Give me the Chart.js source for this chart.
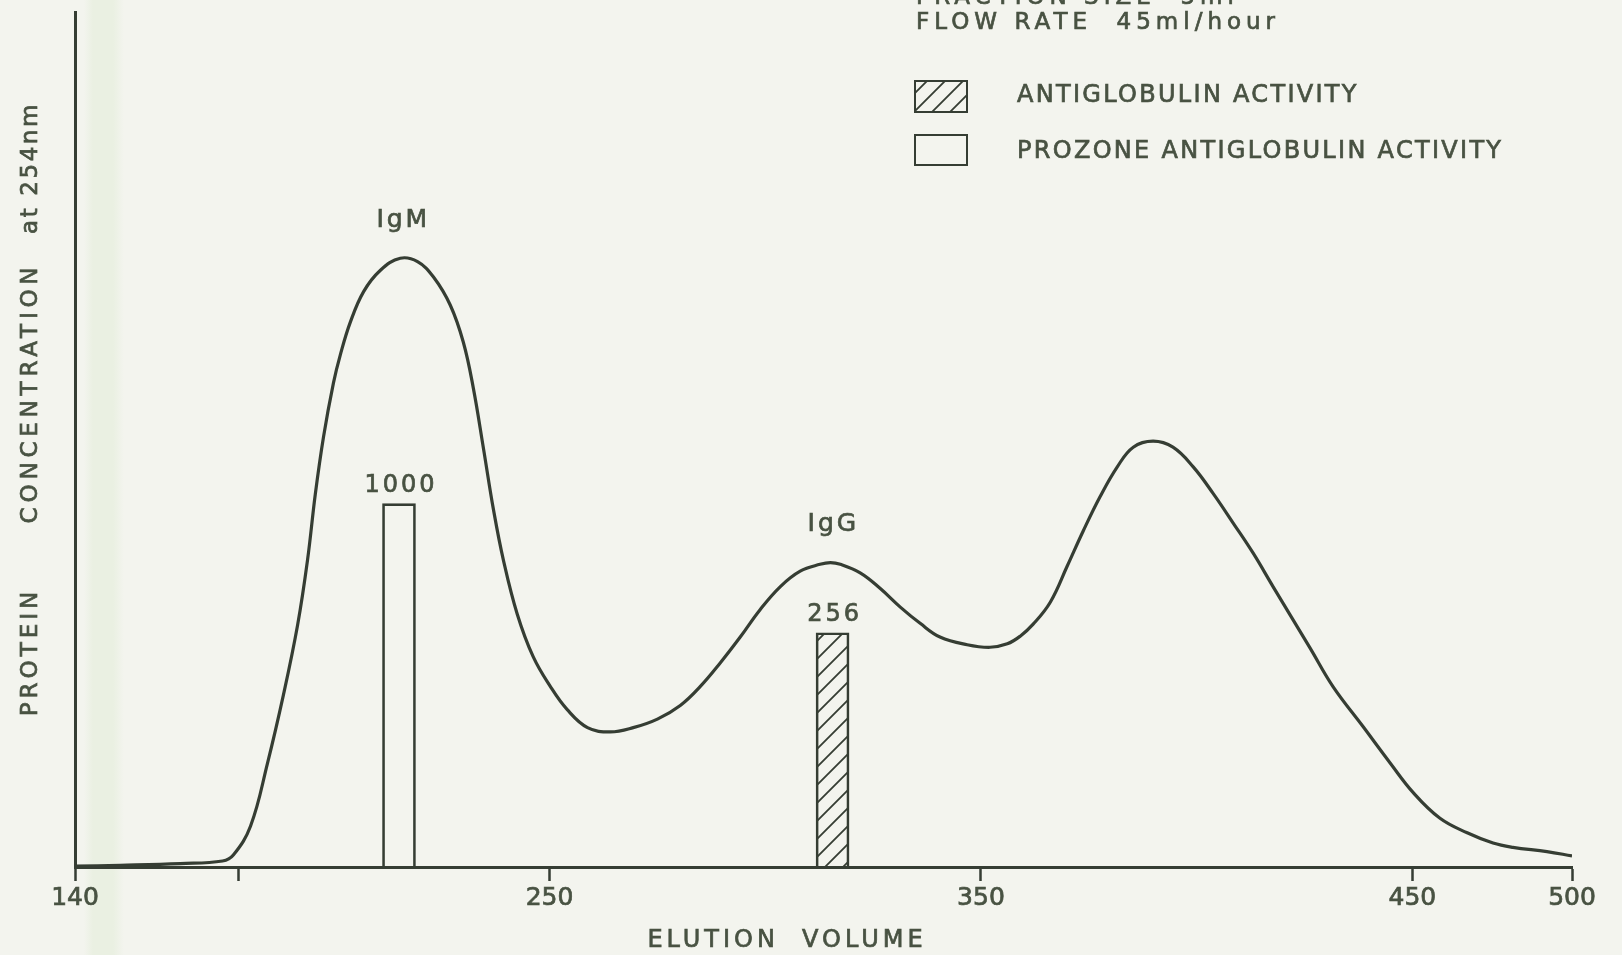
<!DOCTYPE html>
<html>
<head>
<meta charset="utf-8">
<title>Elution profile</title>
<script src="https://cdn.jsdelivr.net/npm/chart.js@4.4.1/dist/chart.umd.min.js"></script>
<style>
  html, body { margin: 0; padding: 0; }
  body {
    width: 1622px; height: 955px; overflow: hidden;
    background: linear-gradient(to right, #f3f4ee 0, #f3f4ee 84px, #eaf0e2 93px, #eaf0e2 113px, #f3f4ee 124px, #f3f4ee 100%);
  }
  #wrap { position: relative; width: 1622px; height: 955px; }
</style>
</head>
<body>
<div id="wrap"><canvas id="elutionChart"></canvas></div>
<script>
// elution profile
const curveVolume = [140, 150.5, 164.4, 174.2, 176.7, 180.7, 184.6, 188.3, 191.6, 193.9, 195.7, 197.6, 199.9, 201.5, 203.8, 206.9, 210.8, 215.4, 219.4, 223.1, 227.0, 230.0, 232.3, 234.7, 237.0, 239.3, 242.5, 246.2, 250.2, 254.1, 258.8, 264.1, 269.4, 275.0, 280.3, 284.9, 289.6, 294.2, 298.8, 303.5, 308.1, 312.7, 315.1, 317.4, 322.0, 326.6, 331.3, 335.9, 340.5, 346.8, 352.1, 356.1, 359.1, 362.1, 366.1, 370.0, 373.7, 377.6, 381.6, 385.3, 389.9, 394.5, 399.2, 403.8, 408.5, 413.1, 417.7, 426.3, 431.6, 438.6, 444.8, 450.2, 456.4, 462.7, 468.7, 473.3, 481.2, 487.0];
const curveProtein = [0.1, 0.2, 0.4, 0.7, 1.4, 4.8, 12.1, 20.1, 28.3, 35.9, 43.6, 50.3, 56.6, 59.9, 63.7, 67.3, 69.8, 71.2, 70.8, 69.0, 65.7, 61.4, 56.1, 48.9, 41.8, 35.9, 29.6, 24.6, 21.1, 18.4, 16.3, 15.8, 16.3, 17.3, 18.9, 21.1, 23.9, 26.9, 30.1, 32.8, 34.6, 35.4, 35.6, 35.4, 34.4, 32.6, 30.4, 28.5, 26.9, 26.0, 25.7, 26.1, 27.0, 28.4, 31.0, 35.2, 39.3, 43.3, 46.8, 49.1, 49.8, 49.1, 46.8, 43.7, 40.2, 36.7, 32.8, 25.6, 21.1, 16.4, 12.2, 8.7, 5.7, 4.0, 2.8, 2.3, 1.8, 1.3];
const peakNames = ['IgM', 'IgG', ''];

// antiglobulin titres
const activityVolume = [315.6];
const activityLevel = [27.4];
const activityTitre = ['256'];
const prozoneVolume = [215.1];
const prozoneLevel = [42.5];
const prozoneTitre = ['1000'];

// x axis as drawn (the last mark is labelled 500)
const tickValues = [140, 178, 250, 350, 450, 487];
const tickLabels = ['140', '', '250', '350', '450', '500'];

const runNotes = ['FRACTION SIZE  5ml', 'FLOW RATE  45ml/hour'];
const xTitle = 'ELUTION  VOLUME';
const yTitle = ['PROTEIN', 'CONCENTRATION', 'at 254nm'];

const INK = '#353d33';
const TEXT = '#485242';
const FONT = "'DejaVu Sans', sans-serif";

function hatch() {
  const c = document.createElement('canvas');
  c.width = 18; c.height = 18;
  const g = c.getContext('2d');
  g.strokeStyle = INK;
  g.lineWidth = 1.8;
  g.beginPath();
  g.moveTo(0, 18); g.lineTo(18, 0);
  g.moveTo(-9, 9); g.lineTo(9, -9);
  g.moveTo(9, 27); g.lineTo(27, 9);
  g.stroke();
  return g.createPattern(c, 'repeat');
}
const hatchFill = hatch();

// pen lettering: fill plus a thin stroke to get the heavier line
function label(ctx, text, x, y, size, spacing, align, baseline) {
  ctx.save();
  ctx.font = size + 'px ' + FONT;
  ctx.fillStyle = TEXT;
  ctx.strokeStyle = TEXT;
  ctx.lineWidth = 0.7;
  ctx.letterSpacing = spacing + 'px';
  ctx.textAlign = align || 'center';
  ctx.textBaseline = baseline || 'middle';
  ctx.fillText(text, x, y);
  ctx.strokeText(text, x, y);
  ctx.restore();
}

const notes = {
  id: 'notes',
  afterDraw(chart) {
    const { ctx, scales: { x, y } } = chart;

    // peak names over the local maxima of the trace
    let k = 0;
    for (let i = 1; i < curveProtein.length - 1; i++) {
      if (curveProtein[i] > curveProtein[i - 1] && curveProtein[i] >= curveProtein[i + 1]) {
        const name = peakNames[k++];
        if (name) label(ctx, name, x.getPixelForValue(curveVolume[i]) + 3, y.getPixelForValue(curveProtein[i]) - 38, 25, 3);
      }
    }

    // titres over the bars
    [1, 2].forEach(di => {
      const ds = chart.data.datasets[di];
      chart.getDatasetMeta(di).data.forEach((bar, j) => {
        label(ctx, ds.titres[j], bar.x + 2, bar.y - 18, 24, 3);
      });
    });

    // legend
    const rows = [[1, 81, 31, 96], [2, 135, 30, 152]];
    rows.forEach(([di, top, h, mid]) => {
      const ds = chart.data.datasets[di];
      ctx.save();
      ctx.fillStyle = ds.backgroundColor;
      ctx.fillRect(915, top, 52, h);
      ctx.strokeStyle = INK;
      ctx.lineWidth = 2;
      ctx.strokeRect(915, top, 52, h);
      ctx.restore();
      label(ctx, ds.label, 1017, mid, 24, 2.3, 'left');
    });

    // run details, top line is cut by the page edge
    label(ctx, runNotes[0], 916, 4, 23, 5, 'left', 'alphabetic');
    label(ctx, runNotes[1], 916, 29, 23, 5, 'left', 'alphabetic');

    // axis titles
    label(ctx, xTitle, 787, 941, 24, 4);
    ctx.save();
    ctx.translate(31, 0);
    ctx.rotate(-Math.PI / 2);
    label(ctx, yTitle[0], -652, 0, 23, 4);
    label(ctx, yTitle[1], -393, 0, 23, 4.8);
    label(ctx, yTitle[2], -168, 0, 23, 2.6);
    ctx.restore();
  }
};

new Chart(document.getElementById('elutionChart'), {
  type: 'line',
  data: {
    datasets: [
      {
        label: 'PROTEIN CONCENTRATION at 254nm',
        data: curveVolume.map((v, i) => ({ x: v, y: curveProtein[i] })),
        borderColor: INK,
        borderWidth: 3.2,
        pointRadius: 0,
        tension: 0.4,
        fill: false,
      },
      {
        type: 'bar',
        label: 'ANTIGLOBULIN ACTIVITY',
        data: activityVolume.map((v, i) => ({ x: v, y: activityLevel[i] })),
        titres: activityTitre,
        backgroundColor: hatchFill,
        borderColor: INK,
        borderWidth: 2,
        grouped: false,
        barThickness: 33,
        maxBarThickness: 33,
      },
      {
        type: 'bar',
        label: 'PROZONE ANTIGLOBULIN ACTIVITY',
        data: prozoneVolume.map((v, i) => ({ x: v, y: prozoneLevel[i] })),
        titres: prozoneTitre,
        backgroundColor: 'rgba(0,0,0,0)',
        borderColor: INK,
        borderWidth: 2,
        grouped: false,
        barThickness: 33,
        maxBarThickness: 33,
      },
    ],
  },
  options: {
    responsive: true,
    maintainAspectRatio: false,
    animation: false,
    devicePixelRatio: 1,
    layout: { padding: { top: 12, right: 50, left: 0, bottom: 0 } },
    plugins: { legend: { display: false }, tooltip: { enabled: false } },
    scales: {
      x: {
        type: 'linear',
        min: 140,
        max: 487,
        offset: false,
        afterBuildTicks: scale => { scale.ticks = tickValues.map(v => ({ value: v })); },
        afterFit: scale => { scale.height = 88; },
        ticks: {
          autoSkip: false,
          maxRotation: 0,
          padding: 2,
          color: TEXT,
          textStrokeColor: TEXT,
          textStrokeWidth: 0.7,
          font: { family: FONT, size: 25 },
          callback: (value, index) => tickLabels[index],
        },
        grid: { display: true, offset: false, drawOnChartArea: false, drawTicks: true, tickLength: 14, tickWidth: 2.5, tickColor: INK, color: INK },
        border: { display: true, color: INK, width: 3 },
      },
      y: {
        min: 0,
        max: 100,
        afterFit: scale => { scale.width = 75; },
        ticks: { display: false },
        grid: { display: false },
        border: { display: true, color: INK, width: 3 },
      },
    },
  },
  plugins: [notes],
});
</script>
</body>
</html>
